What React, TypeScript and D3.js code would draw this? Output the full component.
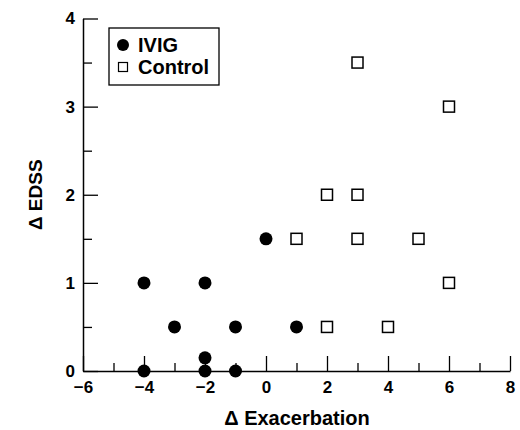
import React, { useEffect, useRef } from 'react';
import * as d3 from 'd3';

// values
const ivigX = [-4, -4, -3, -2, -2, -2, -1, -1, 0, 1];
const ivigY = [0, 1, 0.5, 1, 0.15, 0, 0.5, 0, 1.5, 0.5];
const controlX = [1, 2, 2, 3, 3, 3, 4, 5, 6, 6];
const controlY = [1.5, 2, 0.5, 3.5, 2, 1.5, 0.5, 1.5, 3, 1];
const xTicks = [-6, -5, -4, -3, -2, -1, 0, 1, 2, 3, 4, 5, 6, 7, 8];
const yTicks = [0, 0.5, 1, 1.5, 2, 2.5, 3, 3.5, 4];
const legendLabels = ['IVIG', 'Control'];

const font = '"Liberation Sans", Arial, sans-serif';

export default function App() {
    const ref = useRef<SVGSVGElement>(null);

    useEffect(() => {
        const svg = d3.select(ref.current);
        svg.selectAll('*').remove();

        const x = d3.scaleLinear().domain([-6, 8]).range([83, 510]);
        const y = d3.scaleLinear().domain([0, 4]).range([371, 18.5]);

        //x axis, major ticks on even numbers
        const xAxis = d3.axisBottom(x)
            .tickValues(xTicks)
            .tickSizeInner(-15)
            .tickSizeOuter(0)
            .tickPadding(10)
            .tickFormat(d => (+d % 2 === 0 ? d3.format('')(d) : ''));
        const xg = svg.append('g').attr('transform', `translate(0,${y(0)})`).call(xAxis);
        xg.selectAll('.tick line').filter(d => (d as number) % 2 !== 0).attr('y2', -8);

        const yAxis = d3.axisLeft(y)
            .tickValues(yTicks)
            .tickSizeInner(-15)
            .tickSizeOuter(0)
            .tickPadding(8)
            .tickFormat(d => (+d % 1 === 0 ? d3.format('')(d) : ''));
        const yg = svg.append('g').attr('transform', `translate(${x(-6)},0)`).call(yAxis);
        yg.selectAll('.tick line').filter(d => (d as number) % 1 !== 0).attr('x2', 9);

        [xg, yg].forEach(g => {
            g.select('.domain').attr('stroke-width', 1.5);
            g.selectAll('.tick line').attr('stroke-width', 1.3);
            g.selectAll('text')
                .attr('font-family', font)
                .attr('font-size', 17)
                .attr('font-weight', 'bold')
                .attr('fill', '#000');
        });

        // points
        svg.append('g').selectAll('circle')
            .data(ivigX)
            .enter()
            .append('circle')
            .attr('cx', d => x(d))
            .attr('cy', (d, i) => y(ivigY[i]))
            .attr('r', 6.5)
            .attr('fill', '#000');

        const s = 11;
        svg.append('g').selectAll('rect')
            .data(controlX)
            .enter()
            .append('rect')
            .attr('x', d => x(d) - s / 2)
            .attr('y', (d, i) => y(controlY[i]) - s / 2)
            .attr('width', s)
            .attr('height', s)
            .attr('fill', '#fff')
            .attr('stroke', '#000')
            .attr('stroke-width', 1.5);

        // legend
        const legend = svg.append('g');
        legend.append('rect')
            .attr('x', 109).attr('y', 28)
            .attr('width', 110).attr('height', 57)
            .attr('fill', '#fff').attr('stroke', '#000').attr('stroke-width', 1.3);
        legend.append('circle').attr('cx', 123).attr('cy', 45).attr('r', 6).attr('fill', '#000');
        legend.append('rect')
            .attr('x', 118.5).attr('y', 62.5).attr('width', 9).attr('height', 9)
            .attr('fill', '#fff').attr('stroke', '#000').attr('stroke-width', 1.2);
        legend.selectAll('text')
            .data(legendLabels)
            .enter()
            .append('text')
            .attr('x', 138)
            .attr('y', (d, i) => 52 + i * 22)
            .attr('font-family', font)
            .attr('font-size', 20)
            .attr('font-weight', 'bold')
            .text(d => d);

        // axis titles
        svg.append('text')
            .attr('x', 297).attr('y', 425)
            .attr('text-anchor', 'middle')
            .attr('font-family', font)
            .attr('font-size', 20)
            .attr('font-weight', 'bold')
            .text('\u0394 Exacerbation');

        svg.append('text')
            .attr('transform', `translate(42,${y(2)}) rotate(-90)`)
            .attr('text-anchor', 'middle')
            .attr('font-family', font)
            .attr('font-size', 19)
            .attr('font-weight', 'bold')
            .text('\u0394 EDSS');
    }, []);

    return (
        <svg ref={ref} width={520} height={430}
            style={{ position: 'absolute', left: 0, top: 0, background: '#fff' }} />
    );
}
